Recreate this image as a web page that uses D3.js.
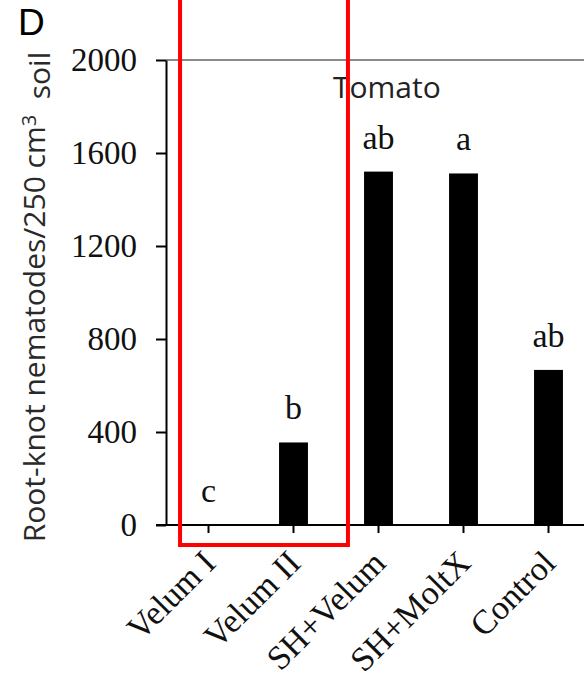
<!DOCTYPE html>
<html>
<head>
<meta charset="utf-8">
<script src="https://cdn.jsdelivr.net/npm/d3@7"></script>
<style>
  body { margin: 0; background: #fff; }
  svg { display: block; }
</style>
</head>
<body>
<svg id="area" width="584" height="677"></svg>
<script>
// treatment groups and mean counts
const categories = ['Velum I', 'Velum II', 'SH+Velum', 'SH+MoltX', 'Control'];
const values = [0, 355, 1520, 1512, 667];
const letters = ['c', 'b', 'ab', 'a', 'ab'];
const yTicks = [0, 400, 800, 1200, 1600, 2000];
const highlighted = ['Velum I', 'Velum II'];

const svg = d3.select('#area');
const margin = { top: 60, left: 166, bottom: 152 };
const width = 584;
const height = 677;

const x = d3.scaleBand()
  .domain(categories)
  .range([margin.left, margin.left + 425])
  .paddingInner(0.66)
  .paddingOuter(0.33);

const y = d3.scaleLinear()
  .domain([0, 2000])
  .range([height - margin.bottom, margin.top]);

const serif = '"Liberation Serif", "Times New Roman", serif';
const sans = '"Open Sans", "Liberation Sans", Arial, sans-serif';
const mid = (d) => x(d) + x.bandwidth() / 2;

// top frame line
svg.append('line')
  .attr('x1', margin.left)
  .attr('x2', width + 10)
  .attr('y1', y(2000))
  .attr('y2', y(2000))
  .attr('stroke', '#8a8a8a')
  .attr('stroke-width', 2);

// bars
svg.selectAll('rect.bar')
  .data(values)
  .enter().append('rect')
  .attr('class', 'bar')
  .attr('x', (d, i) => x(categories[i]))
  .attr('y', (d) => y(d))
  .attr('width', x.bandwidth())
  .attr('height', (d) => y(0) - y(d))
  .attr('fill', '#000');

// y axis
const yAxis = d3.axisLeft(y)
  .tickValues(yTicks)
  .tickFormat(d3.format('d'))
  .tickSize(10)
  .tickSizeOuter(0)
  .tickPadding(19);

const gy = svg.append('g')
  .attr('transform', `translate(${margin.left}, 0)`)
  .call(yAxis);
gy.select('.domain').attr('stroke-width', 2);
gy.selectAll('.tick line').attr('stroke-width', 2);
gy.selectAll('.tick text')
  .style('font-family', serif)
  .style('font-size', '33px')
  .attr('fill', '#111');

// x axis: baseline runs off the right edge
svg.append('line')
  .attr('x1', margin.left - 10)
  .attr('x2', width + 10)
  .attr('y1', y(0))
  .attr('y2', y(0))
  .attr('stroke', '#000')
  .attr('stroke-width', 2);

svg.selectAll('line.xtick')
  .data(categories)
  .enter().append('line')
  .attr('class', 'xtick')
  .attr('x1', mid)
  .attr('x2', mid)
  .attr('y1', y(0))
  .attr('y2', y(0) + 8)
  .attr('stroke', '#000')
  .attr('stroke-width', 2);

svg.selectAll('text.xlab')
  .data(categories)
  .enter().append('text')
  .attr('class', 'xlab')
  .attr('transform', (d) => `translate(${mid(d) + 9}, ${y(0) + 40}) rotate(-45)`)
  .attr('text-anchor', 'end')
  .style('font-family', serif)
  .style('font-size', '34px')
  .attr('fill', '#111')
  .text((d) => d);

// significance letters
svg.selectAll('text.letter')
  .data(letters)
  .enter().append('text')
  .attr('class', 'letter')
  .attr('x', (d, i) => mid(categories[i]))
  .attr('y', (d, i) => y(values[i]) - 23)
  .attr('text-anchor', 'middle')
  .style('font-family', serif)
  .style('font-size', '34px')
  .attr('fill', '#111')
  .text((d) => d);

// crop label
svg.append('text')
  .attr('x', 333)
  .attr('y', 98)
  .style('font-family', sans)
  .style('font-size', '30px')
  .attr('fill', '#222')
  .text('Tomato');

// y title
const yt = svg.append('text')
  .attr('transform', 'translate(45, 297) rotate(-90)')
  .attr('text-anchor', 'middle')
  .style('font-family', sans)
  .style('font-size', '30px')
  .attr('fill', '#2a2a2a');
yt.append('tspan').text('Root-knot nematodes/250 cm');
yt.append('tspan').attr('dy', '-0.45em').style('font-size', '20px').text('3');
yt.append('tspan').attr('dy', '0.45em').text('\u00a0 soil');

// panel letter
svg.append('text')
  .attr('x', 18)
  .attr('y', 35)
  .style('font-family', '"Liberation Sans", Arial, sans-serif')
  .style('font-size', '37px')
  .attr('fill', '#000')
  .text('D');

// red highlight box round the two Velum treatments
const boxLeft = x(highlighted[0]) - 14;
const boxRight = x(highlighted[1]) + x.bandwidth() + 40;
svg.append('rect')
  .attr('x', boxLeft)
  .attr('y', -10)
  .attr('width', boxRight - boxLeft)
  .attr('height', y(0) + 20 + 10)
  .attr('fill', 'none')
  .attr('stroke', '#ff0000')
  .attr('stroke-width', 4);
</script>
</body>
</html>
